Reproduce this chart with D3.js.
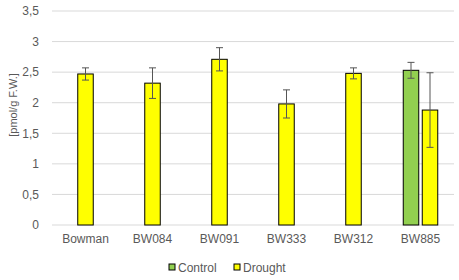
<!DOCTYPE html>
<html>
<head>
<meta charset="utf-8">
<script src="https://cdn.jsdelivr.net/npm/d3@7"></script>
<style>
  body { margin: 0; background: #fff; }
  text { font-family: Arial, "Liberation Sans", sans-serif; fill: #595959; }
</style>
</head>
<body>
<div id="chart"></div>
<script>
var categories = ["Bowman", "BW084", "BW091", "BW333", "BW312", "BW885"];
var controlValues = [null, null, null, null, null, 2.53];
var controlErrors = [null, null, null, null, null, 0.13];
var droughtValues = [2.47, 2.32, 2.71, 1.98, 2.48, 1.88];
var droughtErrors = [0.10, 0.25, 0.19, 0.23, 0.09, 0.61];
var yTicks = [0, 0.5, 1, 1.5, 2, 2.5, 3, 3.5];
var seriesNames = ["Control", "Drought"];
var seriesColors = ["#92d050", "#ffff00"];

var width = 459, height = 280;
var margin = {top: 11, right: 5, bottom: 55, left: 52};
var innerW = width - margin.left - margin.right,
    innerH = height - margin.top - margin.bottom;

var svg = d3.select("#chart")
  .append("svg")
  .attr("width", width)
  .attr("height", height);

var g = svg.append("g")
  .attr("transform", "translate(" + margin.left + "," + margin.top + ")");

var x = d3.scaleBand()
  .domain(categories)
  .range([0, innerW]);

var y = d3.scaleLinear()
  .domain([0, 3.5])
  .range([innerH, 0]);

// gridlines
g.selectAll(".grid")
  .data(yTicks)
  .enter()
  .append("line")
  .attr("x1", 0)
  .attr("x2", innerW)
  .attr("y1", function(d) { return y(d); })
  .attr("y2", function(d) { return y(d); })
  .attr("stroke", "#d9d9d9")
  .attr("stroke-width", 1);

// y axis labels
var yAxis = g.append("g")
  .call(d3.axisLeft(y).tickValues(yTicks).tickSize(0).tickPadding(13)
    .tickFormat(function(d) { return String(d).replace(".", ","); }));
yAxis.select(".domain").remove();
yAxis.selectAll("text").style("font-size", "12px").attr("fill", "#595959");

// x axis labels
var xAxis = g.append("g")
  .attr("transform", "translate(0," + innerH + ")")
  .call(d3.axisBottom(x).tickSize(0).tickPadding(9));
xAxis.select(".domain").remove();
xAxis.selectAll("text").style("font-size", "12px").attr("fill", "#595959");

// y axis title
svg.append("text")
  .attr("transform", "translate(17,105) rotate(-90)")
  .attr("text-anchor", "middle")
  .style("font-size", "11px")
  .text("[pmol/g F.W.]");

// build bars
var barW = 15.5, gap = 3.5;
var bars = [];
categories.forEach(function(c, i) {
  var center = x(c) + x.bandwidth() / 2;
  var hasControl = controlValues[i] != null;
  if (hasControl) {
    bars.push({cx: center - gap / 2 - barW / 2, v: controlValues[i], e: controlErrors[i], s: 0});
    bars.push({cx: center + gap / 2 + barW / 2, v: droughtValues[i], e: droughtErrors[i], s: 1});
  } else {
    bars.push({cx: center, v: droughtValues[i], e: droughtErrors[i], s: 1});
  }
});

g.selectAll(".bar")
  .data(bars)
  .enter()
  .append("rect")
  .attr("x", function(d) { return d.cx - barW / 2; })
  .attr("y", function(d) { return y(d.v); })
  .attr("width", barW)
  .attr("height", function(d) { return innerH - y(d.v); })
  .attr("fill", function(d) { return seriesColors[d.s]; })
  .attr("stroke", "#000")
  .attr("stroke-width", 1);

// error bars
var err = g.selectAll(".err")
  .data(bars)
  .enter()
  .append("g")
  .attr("stroke", "#555")
  .attr("stroke-width", 1);

err.append("line")
  .attr("x1", function(d) { return d.cx; })
  .attr("x2", function(d) { return d.cx; })
  .attr("y1", function(d) { return y(d.v + d.e); })
  .attr("y2", function(d) { return y(d.v - d.e); });
err.append("line")
  .attr("x1", function(d) { return d.cx - 3.5; })
  .attr("x2", function(d) { return d.cx + 3.5; })
  .attr("y1", function(d) { return y(d.v + d.e); })
  .attr("y2", function(d) { return y(d.v + d.e); });
err.append("line")
  .attr("x1", function(d) { return d.cx - 3.5; })
  .attr("x2", function(d) { return d.cx + 3.5; })
  .attr("y1", function(d) { return y(d.v - d.e); })
  .attr("y2", function(d) { return y(d.v - d.e); });

// legend
var legendX = [169, 234];
var legend = svg.selectAll(".legend")
  .data(seriesNames)
  .enter()
  .append("g")
  .attr("transform", function(d, i) { return "translate(" + legendX[i] + ",264)"; });

legend.append("rect")
  .attr("width", 6)
  .attr("height", 6)
  .attr("fill", function(d, i) { return seriesColors[i]; })
  .attr("stroke", "#000")
  .attr("stroke-width", 1);

legend.append("text")
  .attr("x", 9)
  .attr("y", 7.5)
  .style("font-size", "12px")
  .text(function(d) { return d; });
</script>
</body>
</html>
